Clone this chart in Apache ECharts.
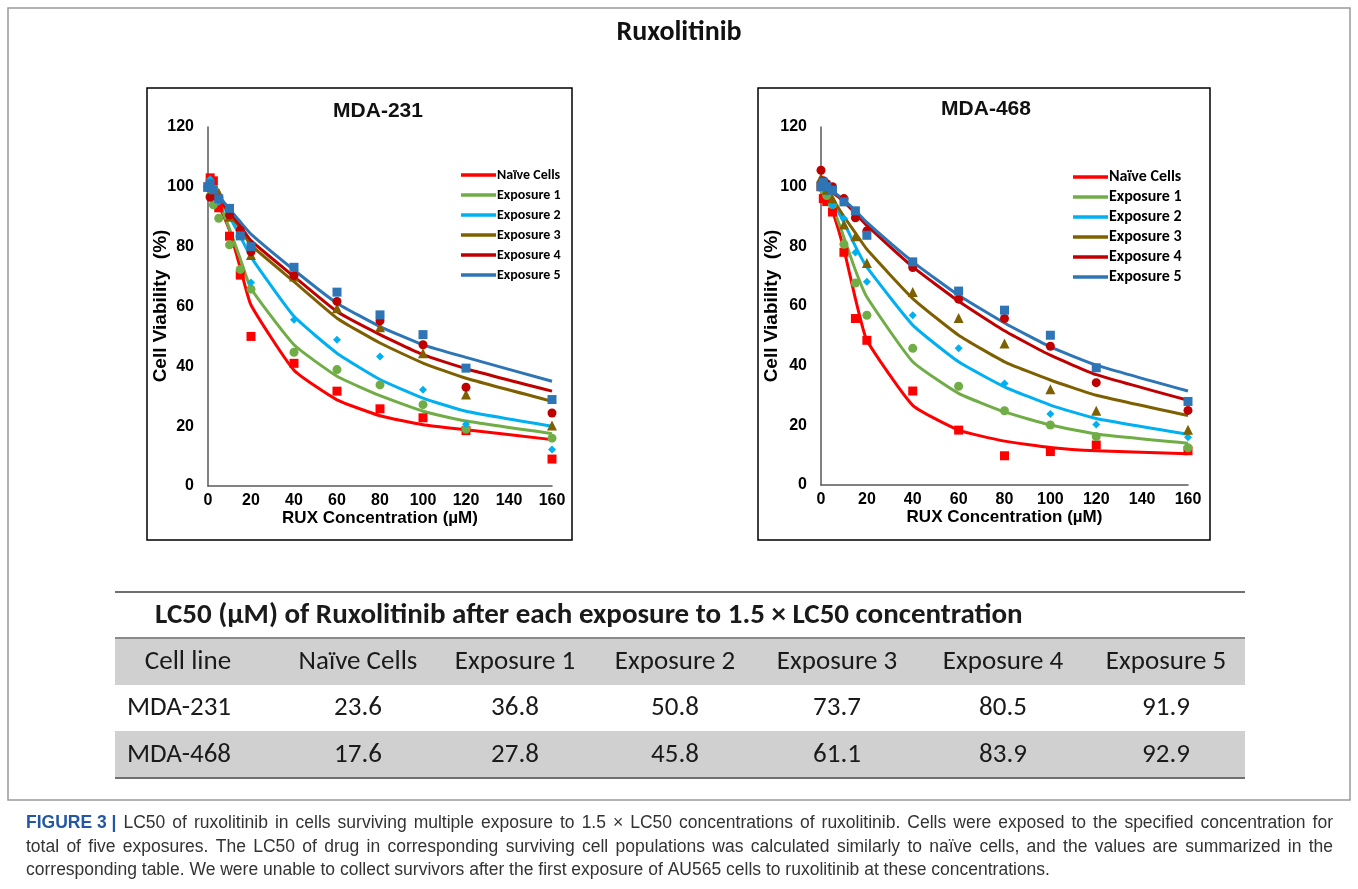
<!DOCTYPE html>
<html><head><meta charset="utf-8">
<script src="https://cdn.jsdelivr.net/npm/echarts@6/dist/echarts.min.js"></script>
<style>html,body{margin:0;padding:0;background:#fff}#c{width:1358px;height:889px}</style>
</head><body><div id="c"></div>
<script>
// ---------- DATA ----------
const concentrations = [0, 1, 2.5, 5, 10, 15, 20, 40, 60, 80, 100, 120, 160];
const seriesNames = ['Naïve Cells', 'Exposure 1', 'Exposure 2', 'Exposure 3', 'Exposure 4', 'Exposure 5'];
const xTicks = [0, 20, 40, 60, 80, 100, 120, 140, 160];
const yTicks = [0, 20, 40, 60, 80, 100, 120];

// MDA-231 measured points
const mda231_naive_pts = [100, 103, 102, 93, 83.5, 70.5, 50, 41, 31.7, 25.8, 22.8, 18.5, 9];
const mda231_exp1_pts  = [100, 97, 94, 89.5, 80.6, 72.4, 65.8, 44.7, 38.9, 33.8, 27.2, 19, 16];
const mda231_exp2_pts  = [100, 102.5, 99, 95, 90, 84, 68, 55.6, 48.9, 43.3, 32.2, 20.6, 12.2];
const mda231_exp3_pts  = [100, 101, 99.5, 98, 90, 85, 77.2, 70, 59.4, 53.1, 44.4, 30.6, 20.2];
const mda231_exp4_pts  = [100, 96.5, 97, 96, 90.6, 85.5, 78.3, 70.3, 61.7, 55.2, 47.2, 33, 24.4];
const mda231_exp5_pts  = [100, 101, 99, 96, 92.8, 83.6, 80, 73.1, 64.8, 57.2, 50.6, 39.4, 28.9];
// MDA-231 fitted curves
const mda231_naive_fit = [100, 99, 97.5, 94, 85.5, 73, 60.5, 38.7, 28.8, 23.5, 20.5, 18.8, 15.5];
const mda231_exp1_fit  = [100, 99, 98, 95, 86, 76, 66, 47.2, 36.7, 30.2, 25, 21.7, 17.5];
const mda231_exp2_fit  = [100, 99.5, 98.5, 96, 90, 83.5, 76.5, 56.7, 44.4, 35.6, 29.4, 25, 20];
const mda231_exp3_fit  = [100, 99.5, 99, 96.5, 91, 86, 80.5, 68.3, 56.1, 47.8, 41.1, 36, 28.3];
const mda231_exp4_fit  = [100, 99.6, 99, 96.5, 91.5, 87, 82, 70, 58.3, 50.6, 43.9, 39.2, 31.7];
const mda231_exp5_fit  = [100, 99.6, 99, 97, 92.5, 88.3, 84.2, 72.2, 61.1, 53.3, 47.2, 43, 35];

// MDA-468 measured points
const mda468_naive_pts = [100, 96, 95, 91.5, 78, 55.8, 48.5, 31.5, 18.4, 9.8, 11.2, 13.4, 11.5];
const mda468_exp1_pts  = [100, 99, 97, 94, 80.7, 67.7, 56.9, 45.8, 33.1, 24.9, 20.1, 16.2, 12.5];
const mda468_exp2_pts  = [100, 100, 98, 93.8, 89.3, 77.9, 68.1, 56.9, 45.8, 34, 23.8, 20.3, 16];
const mda468_exp3_pts  = [103, 101, 99, 96, 87.3, 83.4, 74.4, 64.7, 56, 47.4, 32.1, 24.9, 18.5];
const mda468_exp4_pts  = [105.5, 102, 101, 100, 96, 89.6, 85.2, 72.9, 62.3, 55.8, 46.5, 34.3, 25];
const mda468_exp5_pts  = [100, 101.5, 100, 98.8, 94.9, 91.9, 83.7, 74.8, 65, 58.6, 50.2, 39.3, 28];
// MDA-468 fitted curves
const mda468_naive_fit = [100, 98.5, 96.5, 92, 79, 62.5, 48.5, 26.7, 18.4, 14.7, 12.6, 11.5, 10.5];
const mda468_exp1_fit  = [100, 99, 97.5, 93.5, 83, 72, 63, 41.3, 30.7, 24.5, 20.1, 17.1, 14];
const mda468_exp2_fit  = [100, 99.3, 98.3, 95, 88, 80, 73, 53.6, 41.3, 32.9, 26.8, 22.3, 17];
const mda468_exp3_fit  = [100, 99.5, 98.7, 96, 90, 84.5, 79, 62.5, 50.2, 41.3, 35.2, 30.1, 23.3];
const mda468_exp4_fit  = [100, 99.7, 99.2, 98, 95, 91, 87, 73.1, 61.6, 51.7, 43.5, 37, 28.4];
const mda468_exp5_fit  = [100, 99.8, 99.4, 98.5, 95.5, 92, 88, 74.8, 63.6, 54.3, 46.3, 40.2, 31.5];

// LC50 table
const tableTitle = 'LC50 (\u00b5M) of Ruxolitinib after each exposure to 1.5 \u00d7 LC50 concentration';
const tableHeader = ['Cell line', 'Naïve Cells', 'Exposure 1', 'Exposure 2', 'Exposure 3', 'Exposure 4', 'Exposure 5'];
const rowMDA231 = ['MDA-231', '23.6', '36.8', '50.8', '73.7', '80.5', '91.9'];
const rowMDA468 = ['MDA-468', '17.6', '27.8', '45.8', '61.1', '83.9', '92.9'];

const captionLabel = 'FIGURE 3 |';
const captionLines = [
  'LC50 of ruxolitinib in cells surviving multiple exposure to 1.5 \u00d7 LC50 concentrations of ruxolitinib. Cells were exposed to the specified concentration for',
  'total of five exposures. The LC50 of drug in corresponding surviving cell populations was calculated similarly to naïve cells, and the values are summarized in the',
  'corresponding table. We were unable to collect survivors after the first exposure of AU565 cells to ruxolitinib at these concentrations.'
];

// ---------- STYLE ----------
const colors = ['#ff0000', '#70ad47', '#00b0f0', '#7f6000', '#c00000', '#2e75b6'];
const symbols = ['rect', 'circle', 'diamond', 'triangle', 'circle', 'rect'];
const symSizes = [9, 9, 8, 10, 9, 9];
const CAL = 'Carlito, Lato, "Open Sans", sans-serif';
const ARIAL = '"Liberation Sans", Arial, sans-serif';

const pts = [
  [mda231_naive_pts, mda231_exp1_pts, mda231_exp2_pts, mda231_exp3_pts, mda231_exp4_pts, mda231_exp5_pts],
  [mda468_naive_pts, mda468_exp1_pts, mda468_exp2_pts, mda468_exp3_pts, mda468_exp4_pts, mda468_exp5_pts]
];
const fits = [
  [mda231_naive_fit, mda231_exp1_fit, mda231_exp2_fit, mda231_exp3_fit, mda231_exp4_fit, mda231_exp5_fit],
  [mda468_naive_fit, mda468_exp1_fit, mda468_exp2_fit, mda468_exp3_fit, mda468_exp4_fit, mda468_exp5_fit]
];

const grids = [
  {left: 208, top: 127, width: 344, height: 359},
  {left: 821, top: 127, width: 367, height: 358}
];

function axisX(i) {
  return {
    type: 'value', gridIndex: i, min: 0, max: 160, interval: 20,
    axisLine: {show: true, lineStyle: {color: '#595959', width: 1.5}},
    axisTick: {show: false}, splitLine: {show: false},
    axisLabel: {color: '#000', fontFamily: ARIAL, fontWeight: 'bold', fontSize: 16, margin: 7},
    name: 'RUX Concentration (\u00b5M)', nameLocation: 'middle', nameGap: 23,
    nameTextStyle: {color: '#000', fontFamily: ARIAL, fontWeight: 'bold', fontSize: 17}
  };
}
function axisY(i) {
  return {
    type: 'value', gridIndex: i, min: 0, max: 120, interval: 20,
    axisLine: {show: true, lineStyle: {color: '#595959', width: 1.5}},
    axisTick: {show: false}, splitLine: {show: false},
    axisLabel: {color: '#000', fontFamily: ARIAL, fontWeight: 'bold', fontSize: 16, margin: 14}
  };
}

const series = [];
for (let g = 0; g < 2; g++) {
  for (let s = 0; s < 6; s++) {
    series.push({
      type: 'line', name: seriesNames[s], xAxisIndex: g, yAxisIndex: g,
      data: concentrations.map((x, k) => [x, fits[g][s][k]]),
      showSymbol: false, symbol: 'none', smooth: 0.15,
      lineStyle: {color: colors[s], width: 3}, itemStyle: {color: colors[s]},
      z: 2, silent: true
    });
  }
}
for (let g = 0; g < 2; g++) {
  for (let s = 0; s < 6; s++) {
    series.push({
      type: 'scatter', name: seriesNames[s] + ' data ' + g, xAxisIndex: g, yAxisIndex: g,
      data: concentrations.map((x, k) => [x, pts[g][s][k]]),
      symbol: symbols[s], symbolSize: symSizes[s],
      itemStyle: {color: colors[s], opacity: 1}, z: 3 + s
    });
  }
}

function legendAt(left, top, fs) {
  return {
    data: seriesNames, orient: 'vertical', left: left, top: top,
    icon: 'rect', itemWidth: 35, itemHeight: 3.5, itemGap: 20 - fs,
    textStyle: {color: '#000', fontFamily: CAL, fontWeight: 'bold', fontSize: fs, lineHeight: fs, padding: [0, 0, 0, -4]},
    selectedMode: false
  };
}

// graphic elements
const graphics = [];
graphics.push({type: 'rect', shape: {x: 8, y: 8, width: 1342, height: 792}, style: {fill: 'none', stroke: '#9a9a9a', lineWidth: 1.5}, z: 0});
graphics.push({type: 'text', style: {text: 'Ruxolitinib', x: 679, y: 33, textAlign: 'center', textVerticalAlign: 'middle', font: 'bold 28px ' + CAL, fill: '#111'}});
graphics.push({type: 'rect', shape: {x: 147, y: 88, width: 425, height: 452}, style: {fill: 'none', stroke: '#000', lineWidth: 1.5}, z: 0});
graphics.push({type: 'rect', shape: {x: 758, y: 88, width: 452, height: 452}, style: {fill: 'none', stroke: '#000', lineWidth: 1.5}, z: 0});
graphics.push({type: 'text', style: {text: 'MDA-231', x: 378, y: 111, textAlign: 'center', textVerticalAlign: 'middle', font: 'bold 21px ' + ARIAL, fill: '#111'}});
graphics.push({type: 'text', style: {text: 'MDA-468', x: 986, y: 109, textAlign: 'center', textVerticalAlign: 'middle', font: 'bold 21px ' + ARIAL, fill: '#111'}});
// y-axis titles
[[161, 306], [772, 306]].forEach(p => {
  graphics.push({type: 'text', x: p[0], y: p[1], rotation: Math.PI / 2,
    style: {text: 'Cell Viability  (%)', x: 0, y: 0, textAlign: 'center', textVerticalAlign: 'middle', font: 'bold 19px ' + ARIAL, fill: '#000'}});
});

// table
const tL = 115, tR = 1245;
graphics.push({type: 'line', shape: {x1: tL, y1: 592, x2: tR, y2: 592}, style: {stroke: '#6f6f6f', lineWidth: 2}});
graphics.push({type: 'text', style: {text: tableTitle, x: 155, y: 616, textAlign: 'left', textVerticalAlign: 'middle', font: 'bold 29px ' + CAL, fill: '#1a1a1a'}});
graphics.push({type: 'rect', shape: {x: tL, y: 638, width: tR - tL, height: 47}, style: {fill: '#d0d0d0'}});
graphics.push({type: 'rect', shape: {x: tL, y: 731, width: tR - tL, height: 47}, style: {fill: '#d0d0d0'}});
graphics.push({type: 'line', shape: {x1: tL, y1: 638, x2: tR, y2: 638}, style: {stroke: '#8a8a8a', lineWidth: 2}});
graphics.push({type: 'line', shape: {x1: tL, y1: 778, x2: tR, y2: 778}, style: {stroke: '#6f6f6f', lineWidth: 2}});
const colCenters = [188, 358, 515, 675, 837, 1003, 1166];
const rowYs = [662, 708, 755];
[tableHeader, rowMDA231, rowMDA468].forEach((row, r) => {
  row.forEach((txt, c) => {
    const left = (c === 0 && r > 0);
    graphics.push({type: 'text', style: {
      text: txt, x: left ? 127 : colCenters[c], y: rowYs[r],
      textAlign: left ? 'left' : 'center', textVerticalAlign: 'middle',
      font: '27px ' + CAL, fill: '#1a1a1a'}});
  });
});

// caption (first two lines justified, last line natural)
const capFS = 17.5, capX0 = 26, capX1 = 1333;
const capYs = [823, 847, 870];
const capFont = capFS + 'px ' + ARIAL, capBold = 'bold ' + capFS + 'px ' + ARIAL;
const mctx = document.createElement('canvas').getContext('2d');
function measure(t, f) { mctx.font = f; return mctx.measureText(t).width; }
captionLines.forEach((line, i) => {
  const tokens = line.split(' ').map(w => ({t: w, f: capFont, c: '#333'}));
  if (i === 0) tokens.unshift({t: captionLabel, f: capBold, c: '#2357a3'});
  if (i < 2) {
    const widths = tokens.map(k => measure(k.t, k.f));
    const sum = widths.reduce((a, b) => a + b, 0);
    const gap = (capX1 - capX0 - sum) / (tokens.length - 1);
    let x = capX0;
    tokens.forEach((k, j) => {
      graphics.push({type: 'text', style: {text: k.t, x: x, y: capYs[i], textVerticalAlign: 'middle', font: k.f, fill: k.c}});
      x += widths[j] + gap;
    });
  } else {
    graphics.push({type: 'text', style: {text: line, x: capX0, y: capYs[i], textVerticalAlign: 'middle', font: capFont, fill: '#333'}});
  }
});

const chart = echarts.init(document.getElementById('c'), null, {renderer: 'canvas'});
chart.setOption({
  animation: false,
  backgroundColor: '#fff',
  grid: grids,
  xAxis: [axisX(0), axisX(1)],
  yAxis: [axisY(0), axisY(1)],
  legend: [legendAt(456, 163, 14), legendAt(1068, 164, 16)],
  series: series,
  graphic: graphics
});
</script></body></html>
